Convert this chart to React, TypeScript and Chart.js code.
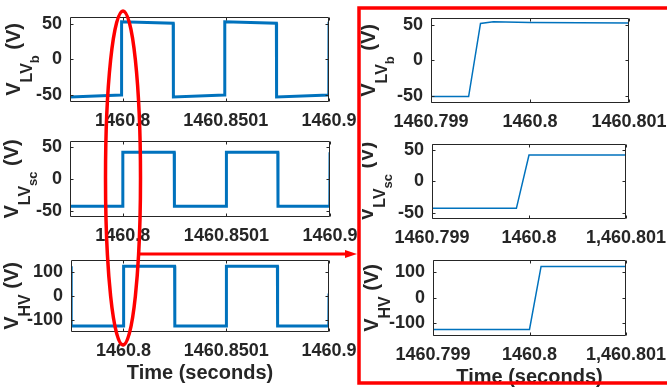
import React, { useEffect, useRef } from 'react';
import { Chart, registerables } from 'chart.js';

Chart.register(...registerables);

const FONT = '"Liberation Sans", Arial, Helvetica, sans-serif';
const TEXT = '#262626';
const BLUE = '#0072BD';

// ---- Wide window (left column) ----
const wideRange = [1460.7745, 1460.9];
const wideTicks = [1460.8, 1460.85, 1460.9];
const wideTickLabels = ['1460.8', '1460.8501', '1460.9'];

const lvbWideTime = [1460.7745, 1460.7994, 1460.7995, 1460.8245, 1460.8246, 1460.8494, 1460.8495, 1460.8745, 1460.8746, 1460.8999, 1460.9];
const lvbWideVolt = [-53, -50, 53, 51, -53, -50, 53, 51, -53, -50, 53];

const lvscWideTime = [1460.7745, 1460.7999, 1460.8, 1460.8248, 1460.8249, 1460.8499, 1460.85, 1460.8748, 1460.8749, 1460.8999, 1460.9];
const lvscWideVolt = [-43, -43, 42, 42, -43, -43, 42, 42, -43, -43, 42];

const hvWideTime = [1460.7745, 1460.7746, 1460.8, 1460.8001, 1460.8249, 1460.825, 1460.85, 1460.8501, 1460.8749, 1460.875, 1460.8999, 1460.9];
const hvWideVolt = [123, -125, -125, 123, 123, -125, -125, 123, 123, -125, -125, 10];

// ---- Zoomed window (right column) ----
const zoomRange = [1460.799, 1460.801];
const zoomTicks = [1460.799, 1460.8, 1460.801];
const zoomTickLabelsB = ['1460.799', '1460.8', '1460.801'];
const zoomTickLabels = ['1460.799', '1460.8', '1,460.801'];

const lvbZoomTime = [1460.799, 1460.79938, 1460.7995, 1460.79963, 1460.8, 1460.801];
const lvbZoomVolt = [-51, -51, 52, 54.5, 53.5, 52.5];

const lvscZoomTime = [1460.799, 1460.79987, 1460.8, 1460.801];
const lvscZoomVolt = [-43, -43, 42, 42];

const hvZoomTime = [1460.799, 1460.8, 1460.80012, 1460.801];
const hvZoomVolt = [-124, -124, 124, 124];

// ---- Y axes ----
const lvRange = [-60, 60];
const lvTicks = [-50, 0, 50];
const hvRange = [-150, 150];
const hvTicks = [-100, 0, 100];

type Panel = {
  key: string;
  box: { l: number; t: number; r: number; b: number };
  time: number[];
  volt: number[];
  xRange: number[];
  xTicks: number[];
  xLabels: string[];
  yRange: number[];
  yTicks: number[];
  sub: string;
  subsub: string;
  titleOffset: number;
  lineWidth: number;
  xTitle: boolean;
};

const panels: Panel[] = [
  { key: 'p1', box: { l: 70, t: 14, r: 329, b: 102 }, time: lvbWideTime, volt: lvbWideVolt, xRange: wideRange, xTicks: wideTicks, xLabels: wideTickLabels, yRange: lvRange, yTicks: lvTicks, sub: 'LV', subsub: 'b', titleOffset: 50, lineWidth: 3, xTitle: false },
  { key: 'p2', box: { l: 70, t: 138, r: 330, b: 217 }, time: lvscWideTime, volt: lvscWideVolt, xRange: wideRange, xTicks: wideTicks, xLabels: wideTickLabels, yRange: lvRange, yTicks: lvTicks, sub: 'LV', subsub: 'sc', titleOffset: 52, lineWidth: 3, xTitle: false },
  { key: 'p3', box: { l: 71, t: 257, r: 329, b: 332 }, time: hvWideTime, volt: hvWideVolt, xRange: wideRange, xTicks: wideTicks, xLabels: wideTickLabels, yRange: hvRange, yTicks: hvTicks, sub: 'HV', subsub: '', titleOffset: 53, lineWidth: 3, xTitle: true },
  { key: 'p4', box: { l: 431, t: 15, r: 629, b: 103 }, time: lvbZoomTime, volt: lvbZoomVolt, xRange: zoomRange, xTicks: zoomTicks, xLabels: zoomTickLabelsB, yRange: lvRange, yTicks: lvTicks, sub: 'LV', subsub: 'b', titleOffset: 56, lineWidth: 1.5, xTitle: false },
  { key: 'p5', box: { l: 432, t: 141, r: 626, b: 219 }, time: lvscZoomTime, volt: lvscZoomVolt, xRange: zoomRange, xTicks: zoomTicks, xLabels: zoomTickLabels, yRange: lvRange, yTicks: lvTicks, sub: 'LV', subsub: 'sc', titleOffset: 59, lineWidth: 1.5, xTitle: false },
  { key: 'p6', box: { l: 433, t: 257, r: 626, b: 336 }, time: hvZoomTime, volt: hvZoomVolt, xRange: zoomRange, xTicks: zoomTicks, xLabels: zoomTickLabels, yRange: hvRange, yTicks: hvTicks, sub: 'HV', subsub: '', titleOffset: 55, lineWidth: 1.5, xTitle: true },
];

const PAD_TOP = 16;
const Y_W = 70;
const PAD_R = 55;
const X_H = 55;

function font(size: number) {
  return `bold ${size}px ${FONT}`;
}

function PanelChart({ p }: { p: Panel }) {
  const ref = useRef<HTMLCanvasElement | null>(null);
  const W = p.box.r - p.box.l + Y_W + PAD_R;
  const H = p.box.b - p.box.t + PAD_TOP + X_H;

  useEffect(() => {
    if (!ref.current) return;
    const decor = {
      id: 'matlabDecor' + p.key,
      afterDraw(chart: any) {
        const ctx = chart.ctx as CanvasRenderingContext2D;
        const { left, top, right, bottom } = chart.chartArea;
        const xs = chart.scales.x;
        const ys = chart.scales.y;
        ctx.save();
        ctx.strokeStyle = TEXT;
        ctx.lineWidth = 1;
        const L = Math.round(left) + 0.5;
        const R = Math.round(right) - 0.5;
        const T = Math.round(top) + 0.5;
        const B = Math.round(bottom) - 0.5;
        ctx.beginPath();
        ctx.rect(L, T, R - L, B - T);
        ctx.stroke();
        const tl = 3;
        ctx.beginPath();
        p.xTicks.forEach((v) => {
          const px = Math.round(xs.getPixelForValue(v)) + 0.5;
          ctx.moveTo(px, B); ctx.lineTo(px, B - tl);
          ctx.moveTo(px, T); ctx.lineTo(px, T + tl);
        });
        p.yTicks.forEach((v) => {
          const py = Math.round(ys.getPixelForValue(v)) + 0.5;
          ctx.moveTo(L, py); ctx.lineTo(L + tl, py);
          ctx.moveTo(R, py); ctx.lineTo(R - tl, py);
        });
        ctx.stroke();

        // y-axis title with subscripts
        ctx.fillStyle = TEXT;
        ctx.textBaseline = 'alphabetic';
        ctx.textAlign = 'left';
        const parts: { t: string; size: number; dy: number }[] = [
          { t: 'V', size: 20, dy: 0 },
          { t: p.sub, size: 16, dy: 12 },
        ];
        if (p.subsub) parts.push({ t: p.subsub, size: 13, dy: 19 });
        parts.push({ t: ' (V)', size: 20, dy: 0 });
        let total = 0;
        const widths = parts.map((pt) => {
          ctx.font = font(pt.size);
          const w = ctx.measureText(pt.t).width;
          total += w;
          return w;
        });
        const cx = left - p.titleOffset;
        const cy = (top + bottom) / 2;
        ctx.translate(cx, cy);
        ctx.rotate(-Math.PI / 2);
        let u = -total / 2;
        parts.forEach((pt, i) => {
          ctx.font = font(pt.size);
          ctx.fillText(pt.t, u, pt.dy);
          u += widths[i];
        });
        ctx.setTransform(1, 0, 0, 1, 0, 0);

        if (p.xTitle) {
          ctx.font = font(20);
          ctx.textAlign = 'center';
          ctx.textBaseline = 'alphabetic';
          ctx.fillText('Time (seconds)', (left + right) / 2, bottom + 47);
        }
        ctx.restore();
      },
    };

    const chart = new Chart(ref.current, {
      type: 'line',
      data: {
        datasets: [
          {
            data: p.time.map((t, i) => ({ x: t, y: p.volt[i] })),
            borderColor: BLUE,
            backgroundColor: BLUE,
            borderWidth: p.lineWidth,
            pointRadius: 0,
            tension: 0,
            fill: false,
          },
        ],
      },
      options: {
        responsive: false,
        animation: false,
        events: [],
        layout: { padding: { top: PAD_TOP, right: PAD_R, left: 0, bottom: 0 } },
        plugins: { legend: { display: false }, tooltip: { enabled: false }, title: { display: false } },
        scales: {
          x: {
            type: 'linear',
            position: 'bottom',
            min: p.xRange[0],
            max: p.xRange[1],
            grid: { display: false, drawTicks: false },
            border: { display: false },
            afterBuildTicks: (scale: any) => {
              scale.ticks = p.xTicks.map((v) => ({ value: v }));
            },
            afterFit: (scale: any) => {
              scale.height = X_H;
            },
            ticks: {
              autoSkip: false,
              maxRotation: 0,
              minRotation: 0,
              padding: 8,
              color: TEXT,
              font: { family: FONT, size: 18, weight: 'bold' },
              callback: (value: any) => {
                const i = p.xTicks.findIndex((v) => Math.abs(v - Number(value)) < 1e-7);
                return i >= 0 ? p.xLabels[i] : '';
              },
            },
          },
          y: {
            type: 'linear',
            position: 'left',
            min: p.yRange[0],
            max: p.yRange[1],
            grid: { display: false, drawTicks: false },
            border: { display: false },
            afterBuildTicks: (scale: any) => {
              scale.ticks = p.yTicks.map((v) => ({ value: v }));
            },
            afterFit: (scale: any) => {
              scale.width = Y_W;
            },
            ticks: {
              autoSkip: false,
              padding: 8,
              color: TEXT,
              font: { family: FONT, size: 18, weight: 'bold' },
              callback: (value: any) => String(value),
            },
          },
        },
      } as any,
      plugins: [decor],
    });
    return () => chart.destroy();
  }, []);

  return (
    <canvas
      ref={ref}
      width={W}
      height={H}
      style={{ position: 'absolute', left: p.box.l - Y_W, top: p.box.t - PAD_TOP, width: W, height: H }}
    />
  );
}

export default function App() {
  return (
    <div style={{ position: 'fixed', left: 0, top: 0, width: 667, height: 387, background: '#ffffff', overflow: 'hidden' }}>
      {panels.map((p) => (
        <PanelChart key={p.key} p={p} />
      ))}
      <svg width={667} height={387} style={{ position: 'absolute', left: 0, top: 0, pointerEvents: 'none' }}>
        <ellipse cx={123} cy={178} rx={17.5} ry={167} fill="none" stroke="#FF0000" strokeWidth={3.5} />
        <rect x={359} y={8} width={330} height={375} fill="none" stroke="#FF0000" strokeWidth={3.5} />
        <line x1={140} y1={254} x2={347} y2={254} stroke="#FF0000" strokeWidth={3} />
        <polygon points="357,254 345,250 345,258" fill="#FF0000" />
      </svg>
    </div>
  );
}
